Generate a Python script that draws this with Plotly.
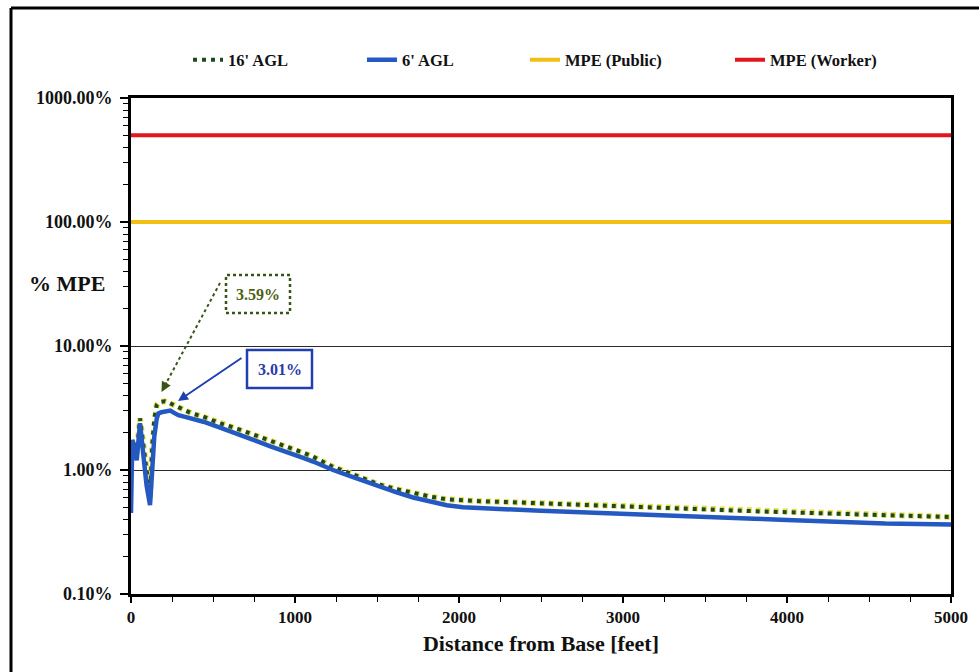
import plotly.graph_objects as go

# ---------------- data ----------------
dist_ft = [0, 8, 20, 35, 55, 75, 95, 116, 130, 142, 157, 167, 185, 200, 207, 225, 240, 260,
           289, 330, 370, 441, 543, 650, 746, 850, 949, 1050, 1110, 1232, 1350, 1518, 1620,
           1720, 1825, 1925, 2025, 2128, 2331, 2500, 2697, 3000, 3250, 3530, 3800, 4000,
           4200, 4402, 4600, 4800, 5000]

agl16 = [1.6, 1.75, 1.6, 1.35, 2.61, 1.6, 0.9, 0.6, 1.6, 2.6, 3.35, 3.48, 3.55, 3.59, 3.58,
         3.52, 3.45, 3.36, 3.24, 3.02, 2.86, 2.69, 2.38, 2.15, 1.92, 1.72, 1.54, 1.38, 1.28,
         1.06, 0.92, 0.76, 0.70, 0.65, 0.61, 0.58, 0.565, 0.56, 0.549, 0.54, 0.53, 0.51,
         0.495, 0.48, 0.465, 0.455, 0.447, 0.44, 0.432, 0.425, 0.418]

agl6 = [0.45, 1.75, 1.5, 1.2, 2.38, 1.3, 0.75, 0.52, 1.0, 1.86, 2.6, 2.86, 2.92, 2.95, 2.95,
        2.98, 3.01, 2.9, 2.77, 2.68, 2.61, 2.45, 2.2, 1.97, 1.75, 1.55, 1.38, 1.25, 1.17,
        1.0, 0.88, 0.73, 0.66, 0.60, 0.555, 0.52, 0.50, 0.49, 0.48, 0.47, 0.46, 0.45,
        0.435, 0.42, 0.405, 0.395, 0.385, 0.375, 0.37, 0.367, 0.363]

mpe_x = [0, 5000]
mpe_public = [100, 100]
mpe_worker = [500, 500]

y_tickvals = [0.1, 1, 10, 100, 1000]
y_ticktext = ["0.10%", "1.00%", "10.00%", "100.00%", "1000.00%"]
x_tickvals = [0, 1000, 2000, 3000, 4000, 5000]

peak16_label = "3.59%"
peak6_label = "3.01%"

FONT = "Liberation Serif"
INK = "#111"

fig = go.Figure()

fig.add_trace(go.Scatter(x=mpe_x, y=mpe_public, mode="lines", name="<b>MPE (Public)</b>",
                         line=dict(color="#f2c012", width=4), legend="legend3"))
fig.add_trace(go.Scatter(x=mpe_x, y=mpe_worker, mode="lines", name="<b>MPE (Worker)</b>",
                         line=dict(color="#e3151d", width=4), legend="legend4"))
# yellow halo under the dotted 16' series
fig.add_trace(go.Scatter(x=dist_ft, y=agl16, mode="lines", showlegend=False, hoverinfo="skip",
                         line=dict(color="#e8e04a", width=6, dash="5px,4px")))
fig.add_trace(go.Scatter(x=dist_ft, y=agl16, mode="lines", name="<b>16' AGL</b>",
                         line=dict(color="#1e4a22", width=4, dash="4px,5px"),
                         legend="legend"))
fig.add_trace(go.Scatter(x=dist_ft, y=agl6, mode="lines", name="<b>6' AGL</b>",
                         line=dict(color="#2459c2", width=4.5), legend="legend2"))

# plot-area pixel geometry helpers (for annotation placement only)
L, R, T, B = 131, 951, 98, 594
def px(xp):
    return (xp - L) / (R - L)
def py(yp):
    return (B - yp) / (B - T)

leg_common = dict(orientation="h", yanchor="middle", xanchor="left",
                  font=dict(family=FONT, size=16.5, color=INK),
                  bgcolor="rgba(0,0,0,0)", y=py(60))
fig.update_layout(
    showlegend=True,
    legend=dict(x=px(188), **leg_common),
    legend2=dict(x=px(362), **leg_common),
    legend3=dict(x=px(525), **leg_common),
    legend4=dict(x=px(730), **leg_common),
)

shapes = [
    # outer frame (left & top edges)
    dict(type="line", xref="paper", yref="paper", x0=px(11), x1=px(11), y0=py(700), y1=py(8),
         line=dict(color="black", width=3)),
    dict(type="line", xref="paper", yref="paper", x0=px(11), x1=px(1000), y0=py(8), y1=py(8),
         line=dict(color="black", width=3)),
    # label boxes
    dict(type="rect", xref="paper", yref="paper", x0=px(226), x1=px(290), y0=py(313), y1=py(275),
         line=dict(color="#3a5418", width=2.5, dash="dot"), fillcolor="white"),
    dict(type="rect", xref="paper", yref="paper", x0=px(247), x1=px(312), y0=py(388), y1=py(350),
         line=dict(color="#2040b0", width=2.5), fillcolor="white"),
    # dotted arrow shaft
    dict(type="line", xref="paper", yref="paper", x0=px(220), y0=py(283), x1=px(163), y1=py(389),
         line=dict(color="#3a5418", width=2, dash="dot")),
]

annotations = [
    dict(text="<b>" + peak16_label + "</b>", xref="paper", yref="paper", x=px(258), y=py(294),
         showarrow=False, font=dict(family=FONT, size=16, color="#4d5e14"),
         xanchor="center", yanchor="middle"),
    dict(text="<b>" + peak6_label + "</b>", xref="paper", yref="paper", x=px(280), y=py(369),
         showarrow=False, font=dict(family=FONT, size=16, color="#2a3aa8"),
         xanchor="center", yanchor="middle"),
    dict(text="", xref="paper", yref="paper", x=px(161.5), y=py(392), ax=6, ay=-11,
         showarrow=True, arrowhead=2, arrowsize=1, arrowwidth=2, arrowcolor="#3a5418"),
    dict(text="", xref="paper", yref="paper", x=px(178), y=py(401), ax=65, ay=-44,
         showarrow=True, arrowhead=2, arrowsize=1, arrowwidth=2, arrowcolor="#2040b0"),
    dict(text="<b>% MPE</b>", xref="paper", yref="paper", x=px(67), y=py(283), showarrow=False,
         font=dict(family=FONT, size=22, color=INK), xanchor="center", yanchor="middle"),
]

minor_y = [m * 10 ** e for e in range(-1, 3) for m in range(2, 10)]

fig.update_layout(
    width=979, height=672,
    margin=dict(l=L, r=979 - R, t=T, b=672 - B, autoexpand=False),
    paper_bgcolor="white", plot_bgcolor="white",
    shapes=shapes, annotations=annotations,
    xaxis=dict(range=[0, 5000], tickvals=x_tickvals,
               ticktext=["<b>%d</b>" % v for v in x_tickvals],
               ticks="outside", ticklen=6, tickwidth=1.5, tickcolor="black",
               minor=dict(dtick=250, ticks="outside", ticklen=5, tickcolor="black", tickwidth=1.2),
               showgrid=False, zeroline=False, showline=True, linecolor="black", linewidth=3,
               mirror=True,
               tickfont=dict(family=FONT, size=17, color=INK),
               title=dict(text="<b>Distance from Base [feet]</b>", standoff=10,
                          font=dict(family=FONT, size=22, color=INK))),
    yaxis=dict(type="log", range=[-1, 3], tickvals=y_tickvals,
               ticktext=["<b>" + t + "</b>" for t in y_ticktext],
               ticks="outside", ticklen=8, tickwidth=1.5, tickcolor="black",
               minor=dict(tickvals=minor_y, ticks="outside", ticklen=5, tickcolor="black",
                          tickwidth=1.2, showgrid=False),
               showgrid=True, gridcolor="#2a2a2a", gridwidth=1.2,
               zeroline=False, showline=True, linecolor="black", linewidth=3, mirror=True,
               tickfont=dict(family=FONT, size=18, color=INK),
               ticklabelstandoff=4),
    font=dict(family=FONT, color=INK),
)

fig.write_html("out.html", config={"displayModeBar": False},
               post_script="document.body.style.margin='0px';document.body.style.overflow='hidden';")
